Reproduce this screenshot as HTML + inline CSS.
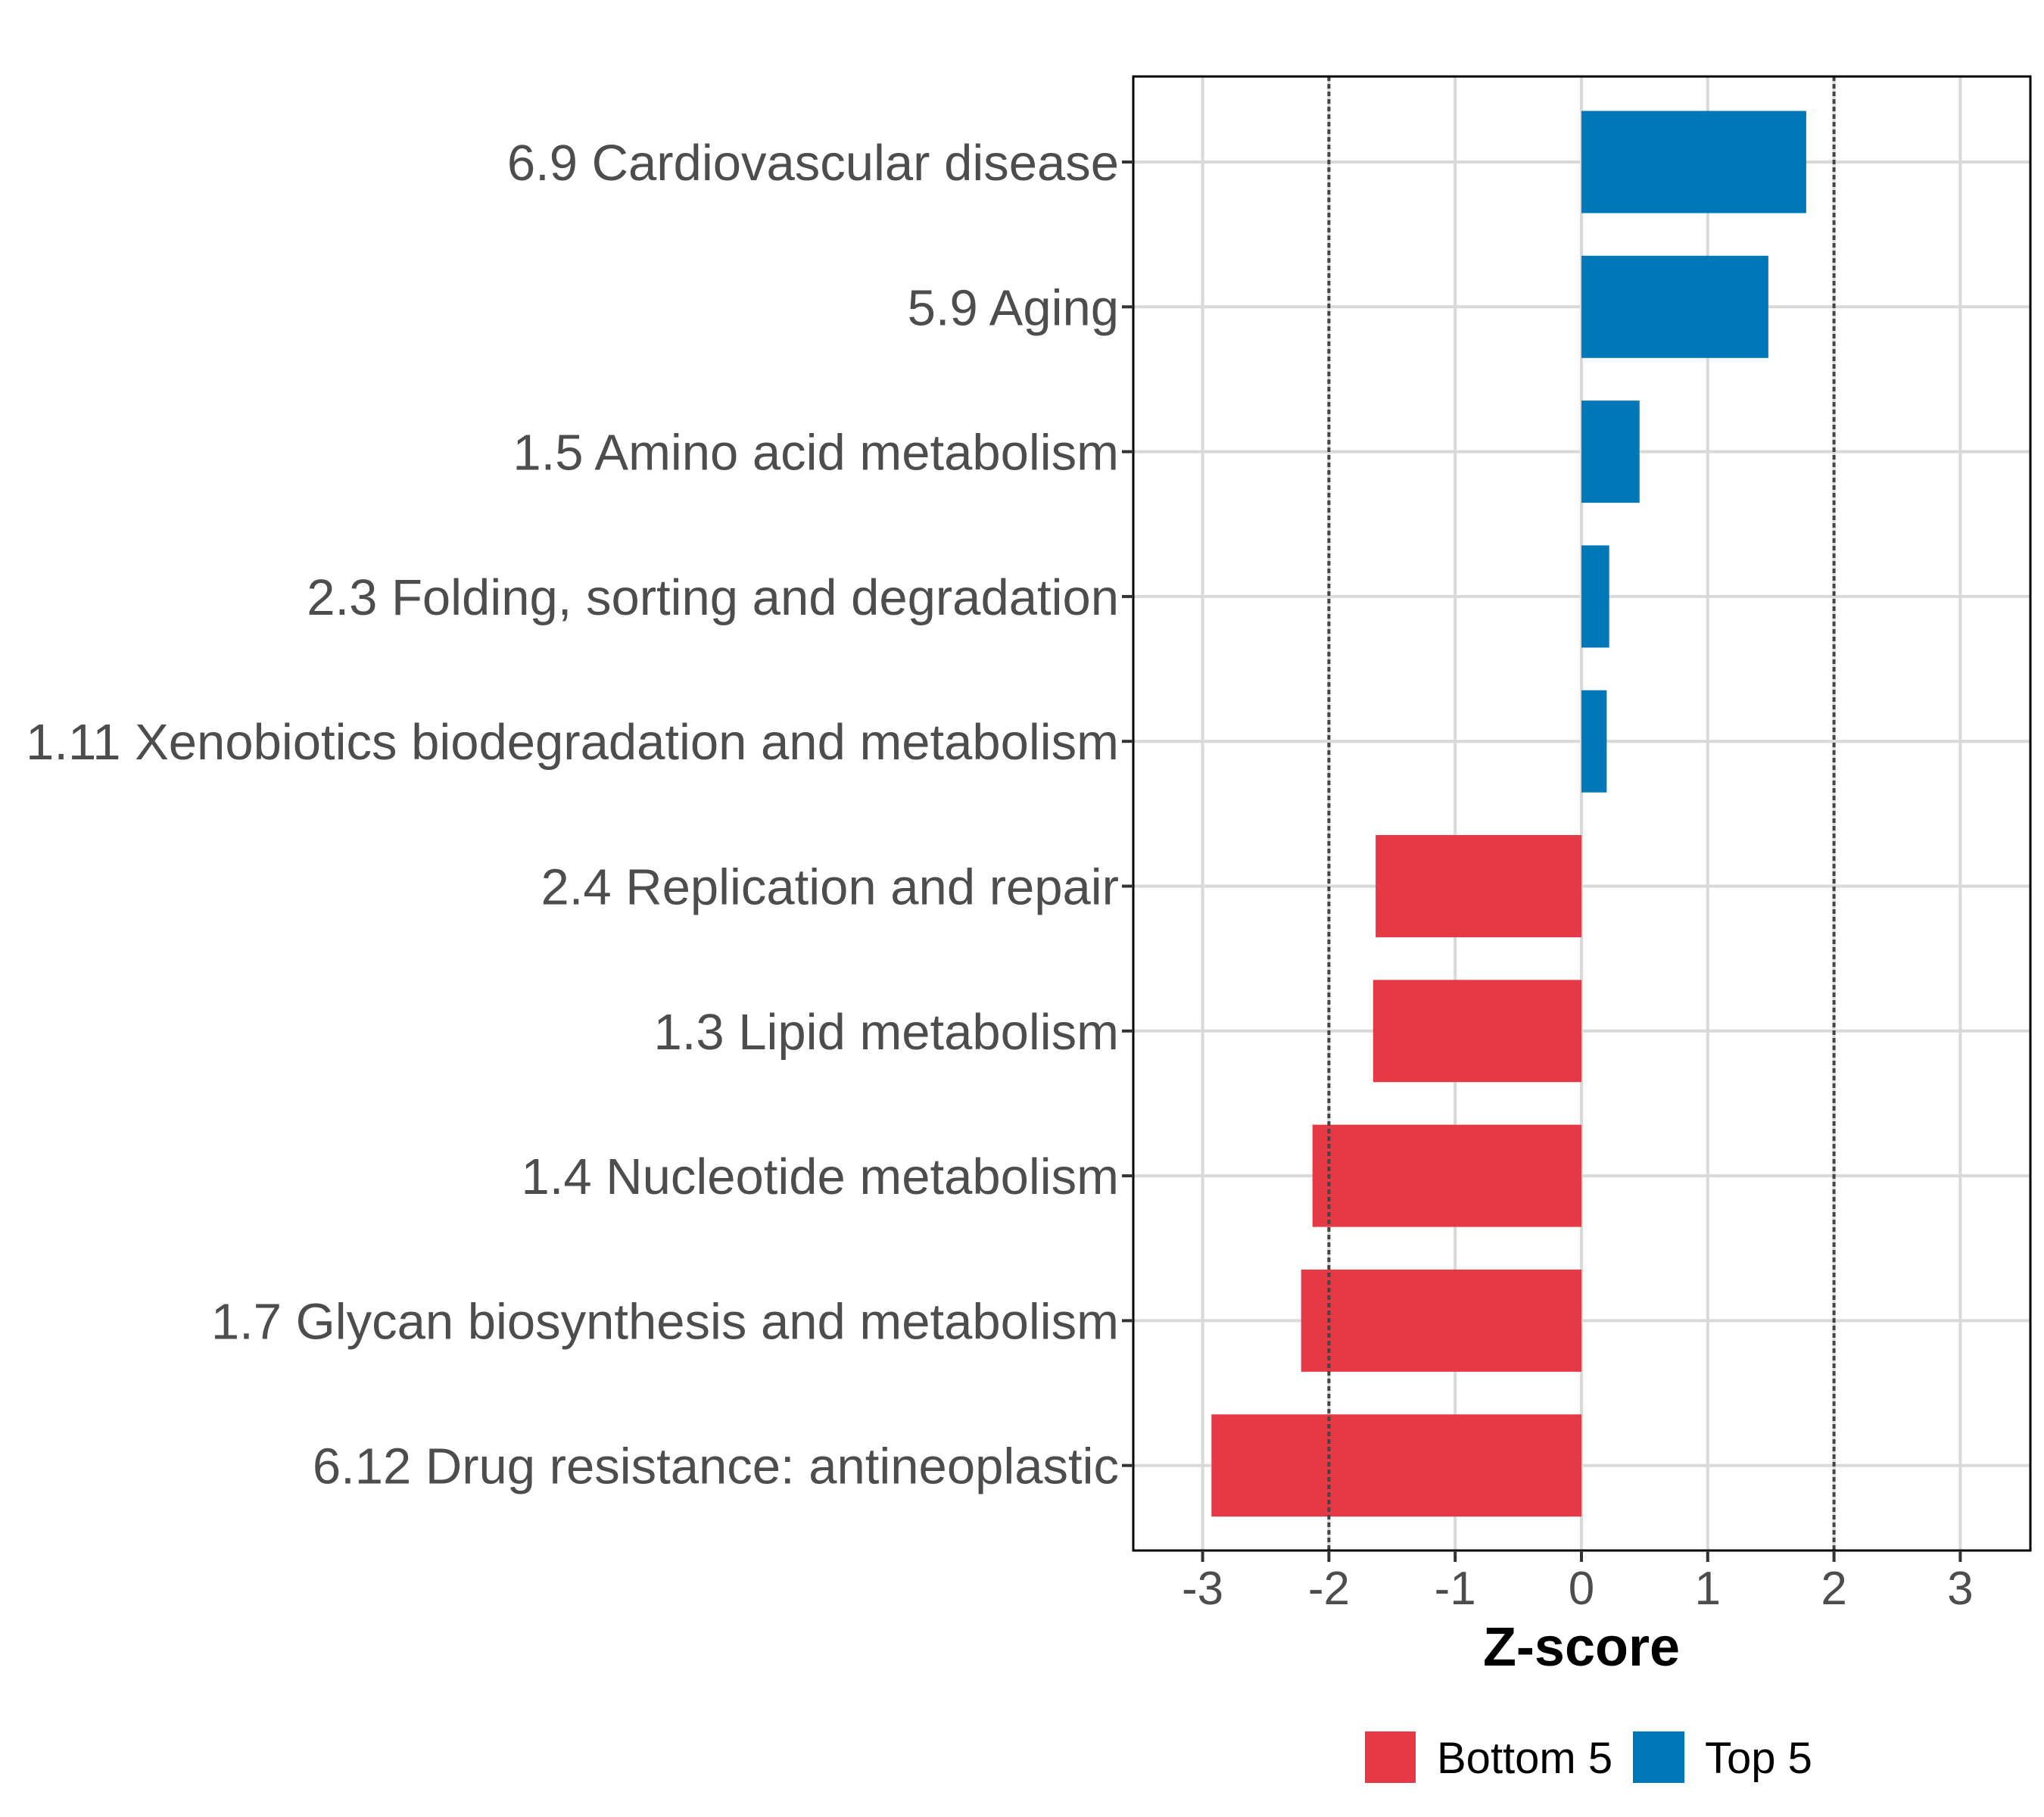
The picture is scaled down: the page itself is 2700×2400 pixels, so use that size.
<!DOCTYPE html>
<html><head><meta charset="utf-8"><style>body{margin:0;background:#fff}svg{display:block}text{font-family:"Liberation Sans",Arial,sans-serif}</style></head>
<body>
<svg id="chart" width="2700" height="2400" viewBox="0 0 2700 2400" xmlns="http://www.w3.org/2000/svg">
<rect width="2700" height="2400" fill="#fff"/>
<g id="grid"></g>
<g id="bars"></g>
<g id="refs"></g>
<rect x="1497" y="101" width="1185" height="1947" fill="none" stroke="#000" stroke-width="3"/>
<g id="axes"></g>
<text x="2089" y="2200" text-anchor="middle" font-size="72" font-weight="bold" fill="#000">Z-score</text>
<g>
<rect x="1803" y="2287" width="67" height="68" fill="#e63946"/>
<text x="1898" y="2342" font-size="58" fill="#000">Bottom 5</text>
<rect x="2157" y="2287" width="68" height="68" fill="#0077b6"/>
<text x="2252" y="2342" font-size="58" fill="#000">Top 5</text>
</g>
</svg>
<script>
const categories = ["6.9 Cardiovascular disease","5.9 Aging","1.5 Amino acid metabolism","2.3 Folding, sorting and degradation","1.11 Xenobiotics biodegradation and metabolism","2.4 Replication and repair","1.3 Lipid metabolism","1.4 Nucleotide metabolism","1.7 Glycan biosynthesis and metabolism","6.12 Drug resistance: antineoplastic"];
const values = [1.78,1.48,0.46,0.22,0.20,-1.63,-1.65,-2.13,-2.22,-2.93];
const groups = ["Top 5","Top 5","Top 5","Top 5","Top 5","Bottom 5","Bottom 5","Bottom 5","Bottom 5","Bottom 5"];
const xTicks = [-3,-2,-1,0,1,2,3];
const refLines = [-2,2];

const NS="http://www.w3.org/2000/svg";
const X0=2089, UNIT=166.8, YTOP=214, STEP=191.3, BARH=135, PL=1497, PR=2682, PT=101, PB=2048;
const xs=v=>X0+v*UNIT;
const ys=i=>YTOP+i*STEP;
function mk(tag,attrs,parent){const e=document.createElementNS(NS,tag);for(const k in attrs)e.setAttribute(k,attrs[k]);parent.appendChild(e);return e;}
const grid=document.getElementById('grid'),bars=document.getElementById('bars'),refs=document.getElementById('refs'),axes=document.getElementById('axes');
xTicks.forEach(t=>{
  const l=mk('line',{x1:xs(t),x2:xs(t),y1:PT,y2:PB,stroke:'#d9d9d9','stroke-width':4},grid);
  
  
  const tk=mk('line',{x1:xs(t),x2:xs(t),y1:PB,y2:PB+15,stroke:'#333','stroke-width':4},axes);
  
  
  const tx=mk('text',{x:xs(t),y:2119,'text-anchor':'middle','font-size':62,fill:'#4d4d4d'},axes);
  tx.textContent=String(t);
  
  
});
categories.forEach((c,i)=>{
  const y=ys(i);
  const g=mk('line',{x1:PL,x2:PR,y1:y,y2:y,stroke:'#d9d9d9','stroke-width':4},grid);
  
  
  const v=values[i];
  const b=mk('rect',{x:Math.min(xs(0),xs(v)),y:y-BARH/2,width:Math.abs(xs(v)-xs(0)),height:BARH,fill:groups[i]==='Top 5'?'#0077b6':'#e63946'},bars);
  
  
  const tk=mk('line',{x1:PL-15,x2:PL,y1:y,y2:y,stroke:'#333','stroke-width':4},axes);
  
  
  const tx=mk('text',{x:PL-19,y:y+24,'text-anchor':'end','font-size':67,fill:'#4d4d4d'},axes);
  tx.textContent=c;
  
  
});
refLines.forEach(r=>{
  const l=mk('line',{x1:xs(r),x2:xs(r),y1:PT,y2:PB,stroke:'#444','stroke-width':4,'stroke-dasharray':'6 4'},refs);
  
  
});
</script>
</body></html>
